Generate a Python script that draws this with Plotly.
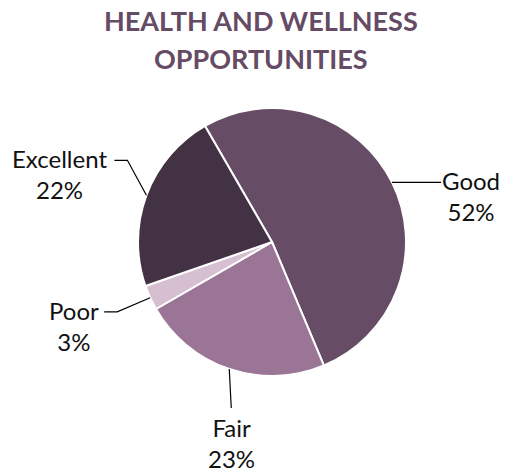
import math
import plotly.graph_objects as go

# Data #
labels = ["Good", "Fair", "Poor", "Excellent"]
values = [52, 23, 3, 22]
colors = ["#664c65", "#9a7596", "#d5bfd1", "#433243"]
title_lines = ["HEALTH AND WELLNESS", "OPPORTUNITIES"]

# Layout (pixels) #
W, H = 516, 472
cx, cy, r = 272, 242, 134
rotation = -30

# leader line geometry per slice, relative to the slice edge point:
# knee offset, horizontal run after knee, label offset from line end
leaders = {
    "Good": dict(knee=(0, 0), run=49, text=(30, 14)),
    "Fair": dict(knee=(2, 39), run=0, text=(0, 35)),
    "Poor": dict(knee=(-33, 14), run=-13, text=(-30, 14)),
    "Excellent": dict(knee=(-19, -35), run=-13, text=(-55, 14)),
}


def px(x, y):
    return x / W, 1 - y / H


fig = go.Figure()
fig.add_trace(go.Pie(
    labels=labels,
    values=values,
    sort=False,
    direction="clockwise",
    rotation=rotation,
    marker=dict(colors=colors, line=dict(color="white", width=2)),
    textinfo="none",
    hoverinfo="label+percent",
    showlegend=False,
    domain=dict(x=[(cx - r) / W, (cx + r) / W], y=[1 - (cy + r) / H, 1 - (cy - r) / H]),
))

# labels with leader lines, placed from the slice mid angles
total = sum(values)
start = rotation
font = dict(family="Lato, Open Sans, sans-serif", size=24, color="#111111")
for lab, v in zip(labels, values):
    span = v / total * 360
    mid = math.radians(start + span / 2)
    start += span
    ex, ey = cx + r * math.sin(mid), cy - r * math.cos(mid)
    g = leaders[lab]
    kx, ky = ex + g["knee"][0], ey + g["knee"][1]
    lx, ly = kx + g["run"], ky
    pts = [px(ex, ey), px(kx, ky), px(lx, ly)]
    fig.add_shape(
        type="path", xref="paper", yref="paper",
        path="M {} {} L {} {} L {} {}".format(*[c for p in pts for c in p]),
        line=dict(color="black", width=1.2),
    )
    tx, ty = px(lx + g["text"][0], ly + g["text"][1])
    fig.add_annotation(
        x=tx, y=ty, xref="paper", yref="paper",
        text=f"{lab}<br>{v / total * 100:.0f}%",
        showarrow=False, xanchor="center", yanchor="middle",
        font=font,
    )

# title, one annotation per line to keep the wide line spacing
for i, line in enumerate(title_lines):
    tx, ty = px(W / 2 + 3, 21 + 37 * i)
    fig.add_annotation(
        x=tx, y=ty, xref="paper", yref="paper",
        text=f"<b>{line}</b>",
        showarrow=False, xanchor="center", yanchor="middle",
        font=dict(family="Lato, Open Sans, sans-serif", size=27, color="#654b64"),
    )

fig.update_layout(
    width=W,
    height=H,
    margin=dict(l=0, r=0, t=0, b=0),
    paper_bgcolor="white",
    plot_bgcolor="white",
)

fig.write_html(
    "out.html",
    config={"displayModeBar": False},
    post_script="document.body.style.margin = '0';",
)
